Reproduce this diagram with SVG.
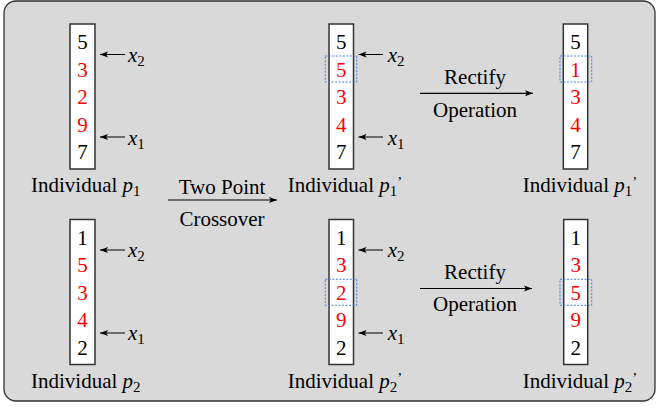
<svg xmlns="http://www.w3.org/2000/svg" width="657" height="407" viewBox="0 0 657 407" font-family="Liberation Serif, Times New Roman, serif">
<defs>
<marker id="ah" markerUnits="userSpaceOnUse" markerWidth="9" markerHeight="7" refX="8" refY="3.5" orient="auto">
<path d="M0,0.5 L8,3.5 L0,6.5 L1.8,3.5 z" fill="#000"/>
</marker>
<style>
text{font-family:"Liberation Serif","Times New Roman",serif;font-size:21px;fill:#000}
.r{fill:#ff0000}
.d{text-anchor:middle}
.it{font-style:italic}
.sub{font-size:15px}
.box{fill:#fff;stroke:#333;stroke-width:1.5}
.dash{fill:none;stroke:#4a7fe0;stroke-width:1;stroke-dasharray:2 1.5}
.ln{stroke:#000;stroke-width:1.2;fill:none}
.sm{stroke:#000;stroke-width:1;fill:none}
</style>
</defs>
<rect x="4" y="1" width="651" height="400" rx="12" ry="12" fill="#d9d9d9" stroke="#333" stroke-width="1.3"/>
<g id="p1">
<rect class="box" x="70" y="24" width="25" height="145"/>
<text class="d" x="82.5" y="49.3">5</text>
<text class="d r" x="82.5" y="76.8">3</text>
<text class="d r" x="82.5" y="104.3">2</text>
<text class="d r" x="82.5" y="131.8">9</text>
<text class="d" x="82.5" y="159.3">7</text>
<text x="128" y="61.5"><tspan class="it">x</tspan><tspan class="sub" dy="4">2</tspan></text>
<text x="128" y="144.5"><tspan class="it">x</tspan><tspan class="sub" dy="4">1</tspan></text>
<text x="31" y="192">Individual <tspan class="it">p</tspan><tspan class="sub" dy="4">1</tspan></text>
</g>
<g id="p1c">
<rect class="box" x="329" y="24" width="24.5" height="145"/>
<rect class="dash" x="325.3" y="56" width="31.4" height="26"/>
<text class="d" x="341.2" y="49.3">5</text>
<text class="d r" x="341.2" y="76.8">5</text>
<text class="d r" x="341.2" y="104.3">3</text>
<text class="d r" x="341.2" y="131.8">4</text>
<text class="d" x="341.2" y="159.3">7</text>
<text x="387.7" y="61.5"><tspan class="it">x</tspan><tspan class="sub" dy="4">2</tspan></text>
<text x="387.7" y="144.5"><tspan class="it">x</tspan><tspan class="sub" dy="4">1</tspan></text>
<text x="287.7" y="192">Individual <tspan class="it">p</tspan><tspan class="sub" dy="4">1</tspan><tspan class="sub" dy="-9">’</tspan></text>
</g>
<g id="p1r">
<rect class="box" x="563.3" y="24" width="24.4" height="145"/>
<rect class="dash" x="560" y="56" width="31.7" height="26"/>
<text class="d" x="575.5" y="49.3">5</text>
<text class="d r" x="575.5" y="76.8">1</text>
<text class="d r" x="575.5" y="104.3">3</text>
<text class="d r" x="575.5" y="131.8">4</text>
<text class="d" x="575.5" y="159.3">7</text>
<text x="522.7" y="192">Individual <tspan class="it">p</tspan><tspan class="sub" dy="4">1</tspan><tspan class="sub" dy="-9">’</tspan></text>
</g>
<g id="p2">
<rect class="box" x="70" y="219.5" width="25" height="145"/>
<text class="d" x="82.5" y="244.8">1</text>
<text class="d r" x="82.5" y="272.3">5</text>
<text class="d r" x="82.5" y="299.8">3</text>
<text class="d r" x="82.5" y="327.3">4</text>
<text class="d" x="82.5" y="354.8">2</text>
<text x="128" y="257"><tspan class="it">x</tspan><tspan class="sub" dy="4">2</tspan></text>
<text x="128" y="340"><tspan class="it">x</tspan><tspan class="sub" dy="4">1</tspan></text>
<text x="31" y="388">Individual <tspan class="it">p</tspan><tspan class="sub" dy="4">2</tspan></text>
</g>
<g id="p2c">
<rect class="box" x="329" y="219.5" width="24.5" height="145"/>
<rect class="dash" x="325.3" y="279.3" width="31.4" height="26"/>
<text class="d" x="341.2" y="244.8">1</text>
<text class="d r" x="341.2" y="272.3">3</text>
<text class="d r" x="341.2" y="299.8">2</text>
<text class="d r" x="341.2" y="327.3">9</text>
<text class="d" x="341.2" y="354.8">2</text>
<text x="387.7" y="257"><tspan class="it">x</tspan><tspan class="sub" dy="4">2</tspan></text>
<text x="387.7" y="340"><tspan class="it">x</tspan><tspan class="sub" dy="4">1</tspan></text>
<text x="287.7" y="388">Individual <tspan class="it">p</tspan><tspan class="sub" dy="4">2</tspan><tspan class="sub" dy="-9">’</tspan></text>
</g>
<g id="p2r">
<rect class="box" x="563.7" y="219.5" width="24" height="145"/>
<rect class="dash" x="560" y="279.3" width="31.7" height="26"/>
<text class="d" x="575.7" y="244.8">1</text>
<text class="d r" x="575.7" y="272.3">3</text>
<text class="d r" x="575.7" y="299.8">5</text>
<text class="d r" x="575.7" y="327.3">9</text>
<text class="d" x="575.7" y="354.8">2</text>
<text x="522.7" y="388">Individual <tspan class="it">p</tspan><tspan class="sub" dy="4">2</tspan><tspan class="sub" dy="-9">’</tspan></text>
</g>
<g id="connectors">
<line class="sm" x1="125" y1="54.5" x2="100" y2="54.5" marker-end="url(#ah)"/>
<line class="sm" x1="125" y1="137" x2="100" y2="137" marker-end="url(#ah)"/>
<line class="sm" x1="125" y1="250" x2="100" y2="250" marker-end="url(#ah)"/>
<line class="sm" x1="125" y1="333" x2="100" y2="333" marker-end="url(#ah)"/>
<line class="sm" x1="383" y1="54.5" x2="358.5" y2="54.5" marker-end="url(#ah)"/>
<line class="sm" x1="383" y1="137" x2="358.5" y2="137" marker-end="url(#ah)"/>
<line class="sm" x1="383" y1="250" x2="358.5" y2="250" marker-end="url(#ah)"/>
<line class="sm" x1="383" y1="333" x2="358.5" y2="333" marker-end="url(#ah)"/>
<line class="ln" x1="168" y1="200" x2="277" y2="200" marker-end="url(#ah)"/>
<text class="d" x="222" y="193.5">Two Point</text>
<text class="d" x="222" y="226">Crossover</text>
<line class="ln" x1="420" y1="93.3" x2="533" y2="93.3" marker-end="url(#ah)"/>
<text class="d" x="475" y="83.5">Rectify</text>
<text class="d" x="475" y="116.7">Operation</text>
<line class="ln" x1="420" y1="288.5" x2="532" y2="288.5" marker-end="url(#ah)"/>
<text class="d" x="475" y="278.5">Rectify</text>
<text class="d" x="475" y="311">Operation</text>
</g>
</svg>
